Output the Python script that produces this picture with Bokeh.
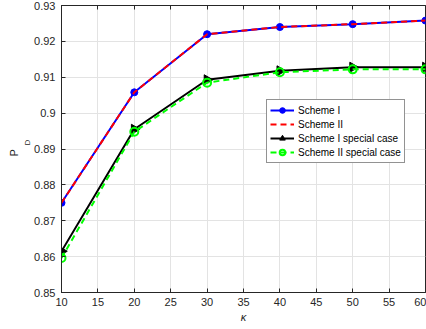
import math
from bokeh.plotting import figure
from bokeh.models import (Range1d, FixedTicker, LinearAxis, Legend, LegendItem, Title)
from bokeh.embed import file_html
from bokeh.resources import INLINE

# ---- data ----
kappa = [10, 20, 30, 40, 50, 60]
scheme_1 = [0.8750, 0.9058, 0.9220, 0.9240, 0.9248, 0.9258]
scheme_2 = [0.8750, 0.9058, 0.9220, 0.9240, 0.9248, 0.9258]
scheme_1_special = [0.8615, 0.8955, 0.9093, 0.9118, 0.9128, 0.9128]
scheme_2_special = [0.8596, 0.8948, 0.9085, 0.9114, 0.9122, 0.9122]

x_ticks = [10, 15, 20, 25, 30, 35, 40, 45, 50, 55, 60]
y_ticks = [0.85, 0.86, 0.87, 0.88, 0.89, 0.90, 0.91, 0.92, 0.93]
y_tick_labels = ["0.85", "0.86", "0.87", "0.88", "0.89", "0.9", "0.91", "0.92", "0.93"]
series_names = ["Scheme I", "Scheme II", "Scheme I special case", "Scheme II special case"]

FONT = "Liberation Sans"
AX = "#262626"

p = figure(width=426, height=329, output_backend="svg", toolbar_location=None,
           x_range=Range1d(10, 60), y_range=Range1d(0.85, 0.93),
           min_border_left=61, min_border_right=1, min_border_top=5, min_border_bottom=37)
p.background_fill_color = "white"
p.border_fill_color = "white"
p.outline_line_color = AX
p.outline_line_width = 1

for ax in (p.xaxis[0], p.yaxis[0]):
    ax.axis_line_color = AX
    ax.major_tick_line_color = AX
    ax.major_tick_in = 4
    ax.major_tick_out = 0
    ax.minor_tick_line_color = None
    ax.major_label_text_font = FONT
    ax.major_label_text_font_size = "11px"
    ax.major_label_text_color = AX

p.xaxis[0].ticker = FixedTicker(ticks=x_ticks)
p.yaxis[0].ticker = FixedTicker(ticks=y_ticks)
p.yaxis[0].major_label_overrides = {t: l for t, l in zip(y_ticks, y_tick_labels)}
p.xaxis[0].major_label_standoff = 5
p.yaxis[0].major_label_standoff = 6
p.xaxis[0].axis_label = "κ"
p.xaxis[0].axis_label_text_font = FONT
p.xaxis[0].axis_label_text_font_style = "italic"
p.xaxis[0].axis_label_text_font_size = "11px"
p.xaxis[0].axis_label_text_color = AX
p.xaxis[0].axis_label_standoff = 2

# top tick-only axis (box with ticks, MATLAB style)
top = LinearAxis(ticker=FixedTicker(ticks=x_ticks))
top.axis_line_color = AX
top.major_tick_line_color = AX
top.major_tick_in = 4
top.major_tick_out = 0
top.minor_tick_line_color = None
top.major_label_text_font_size = "1px"
top.major_label_text_color = None
top.major_label_standoff = 0
p.add_layout(top, "above")

p.xgrid.ticker = FixedTicker(ticks=x_ticks)
p.ygrid.ticker = FixedTicker(ticks=y_ticks)
p.grid.grid_line_color = "#e3e3e3"
p.grid.grid_line_width = 1

# y-axis label P_D (subscript D placed next to P)
t_d = Title(text="D", align="left", offset=147, standoff=0,
            text_font=FONT, text_font_size="8px", text_font_style="normal", text_color=AX)
t_p = Title(text="P", align="left", offset=136, standoff=1,
            text_font=FONT, text_font_size="11px", text_font_style="normal", text_color=AX)
p.add_layout(t_d, "left")
p.add_layout(t_p, "left")

# series
l1 = p.line(kappa, scheme_1, line_color="#0000ff", line_width=2)
m1 = p.scatter(kappa, scheme_1, marker="circle", size=7, fill_color="#0000ff", line_color="#0000ff")
l2 = p.line(kappa, scheme_2, line_color="#ff0000", line_width=2, line_dash="6 4")
l3 = p.line(kappa, scheme_1_special, line_color="black", line_width=2)
m3 = p.scatter(kappa, scheme_1_special, marker="triangle", size=10, angle=-90, angle_units="deg",
               fill_color="black", line_color="black")
l4 = p.line(kappa, scheme_2_special, line_color="#00ff00", line_width=2, line_dash="6 4")
m4 = p.scatter(kappa, scheme_2_special, marker="circle", size=8, fill_color=None,
               line_color="#00ff00", line_width=2)

legend = Legend(items=[
    LegendItem(label=series_names[0], renderers=[l1, m1]),
    LegendItem(label=series_names[1], renderers=[l2]),
    LegendItem(label=series_names[2], renderers=[l3, m3]),
    LegendItem(label=series_names[3], renderers=[l4, m4]),
], location=(205, 129))
legend.border_line_color = AX
legend.border_line_width = 1
legend.background_fill_color = "white"
legend.background_fill_alpha = 1
legend.padding = 3
legend.spacing = 0
legend.margin = 0
legend.glyph_width = 24
legend.glyph_height = 14
legend.label_height = 14
legend.label_standoff = 4
legend.label_text_font = FONT
legend.label_text_font_size = "10px"
legend.label_text_color = "black"
p.add_layout(legend, "center")

open("out.html", "w").write(file_html(p, INLINE))
